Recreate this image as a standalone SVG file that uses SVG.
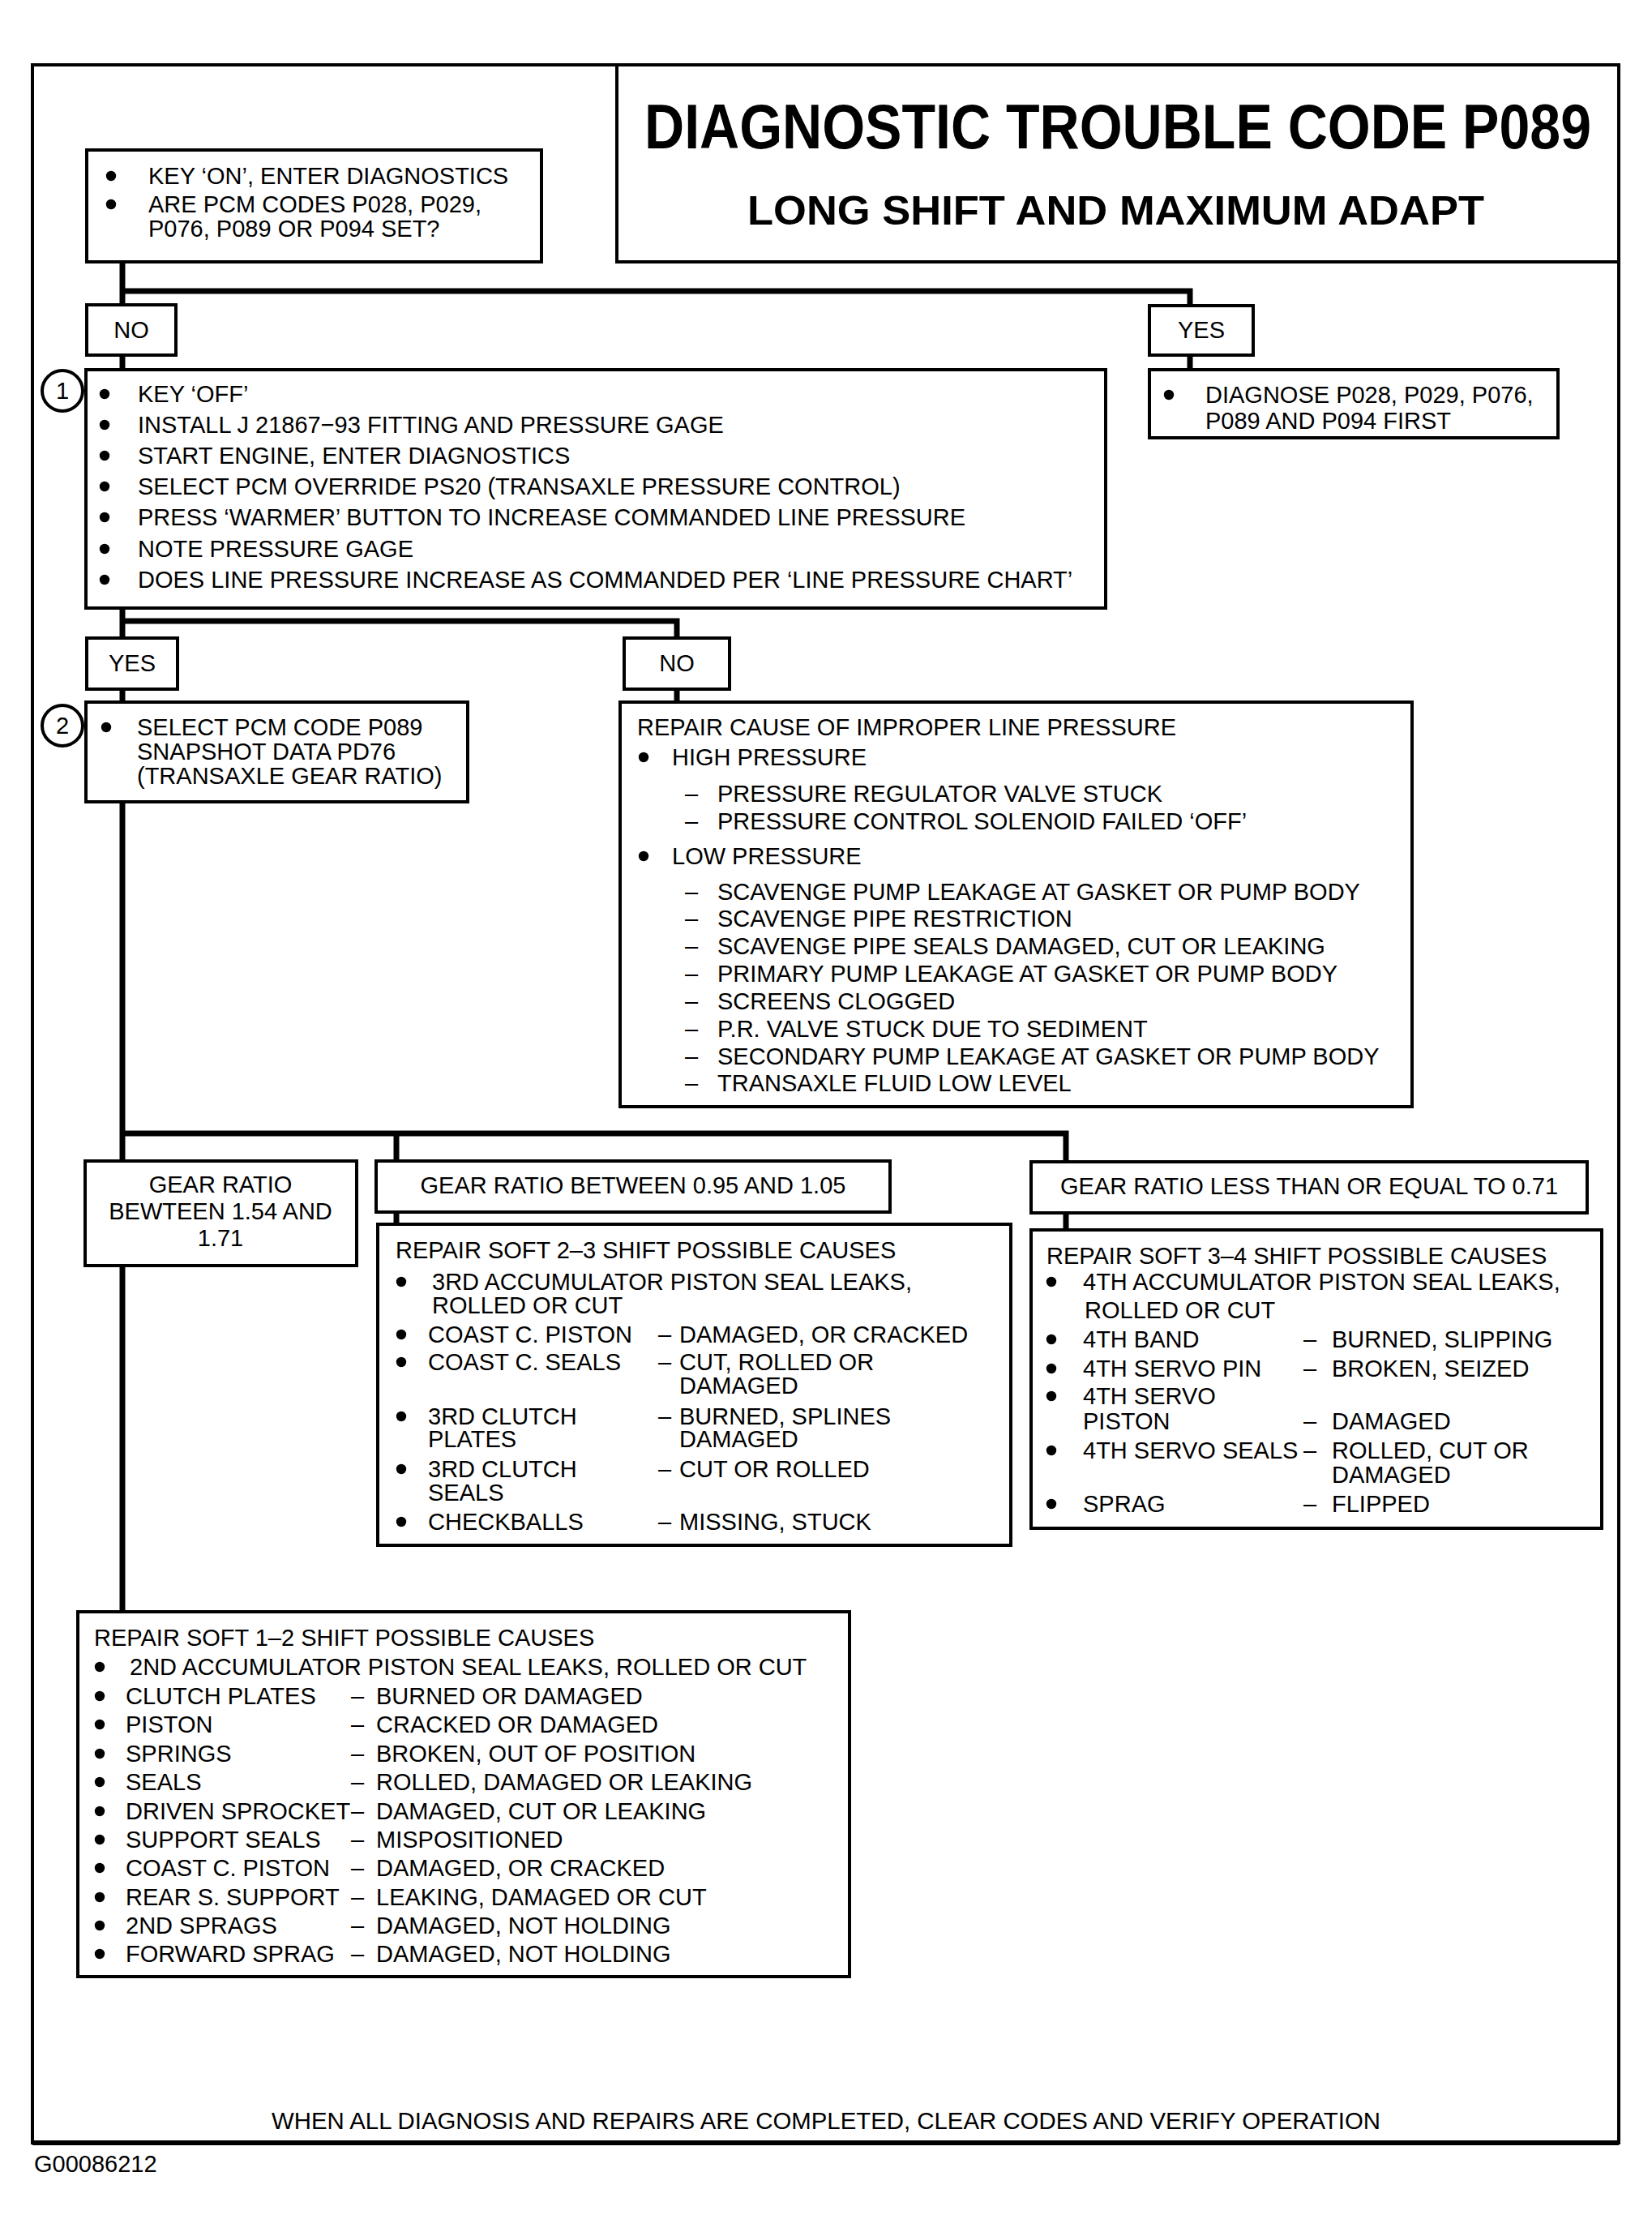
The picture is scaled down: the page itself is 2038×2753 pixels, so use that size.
<svg xmlns="http://www.w3.org/2000/svg" width="2038" height="2753" viewBox="0 0 2038 2753">
<style>
.bx{fill:#fff;stroke:#000;stroke-width:4}
.cn{fill:none;stroke:#000;stroke-width:7;stroke-linejoin:miter}
.t{font-family:"Liberation Sans",Arial,Helvetica,sans-serif;font-size:29px;fill:#000}
.c{text-anchor:middle}
.h{font-family:"Liberation Sans",Arial,Helvetica,sans-serif;font-weight:bold;fill:#000}
.b{fill:#000}
.ci{fill:#fff;stroke:#000;stroke-width:4}
</style>
<defs>
<circle id="bul" r="6.2" fill="#000"/>
</defs>
<rect width="2038" height="2753" fill="#fff"/>
<rect x="40" y="80" width="1957" height="2563" fill="none" stroke="#000" stroke-width="4"/>
<line x1="40" y1="2643" x2="1997" y2="2643" stroke="#000" stroke-width="6"/>

<g id="connectors">
<path class="cn" d="M151,323 V376 M151,359 H1468 V377 M1468,438 V456 M151,438 V456"/>
<path class="cn" d="M151,750 V787 M151,766 H835 V787 M151,850 V866 M835,850 V866"/>
<path class="cn" d="M151,989 V1432 M151,1398 H1315 V1433 M489,1398 V1432 M151,1561 V1988 M489,1495 V1510 M1315,1496 V1517"/>
</g>

<g id="title">
<rect x="761" y="80" width="1236" height="243" fill="#fff" stroke="#000" stroke-width="4"/>
<text class="h" transform="translate(795,183) scale(1,1.15)" x="0" y="0" font-size="68" textLength="1168" lengthAdjust="spacingAndGlyphs">DIAGNOSTIC TROUBLE CODE P089</text>
<text class="h" x="922" y="277" font-size="50" textLength="909" lengthAdjust="spacingAndGlyphs">LONG SHIFT AND MAXIMUM ADAPT</text>
</g>

<g id="start">
<rect class="bx" x="107" y="185" width="561" height="138"/>
<use href="#bul" x="137" y="217"/>
<text class="t" x="183" y="227">KEY ‘ON’, ENTER DIAGNOSTICS</text>
<use href="#bul" x="137" y="252"/>
<text class="t" x="183" y="262">ARE PCM CODES P028, P029,</text>
<text class="t" x="183" y="292">P076, P089 OR P094 SET?</text>
</g>

<g id="no1">
<rect class="bx" x="107" y="376" width="110" height="62"/>
<text class="t c" x="162" y="417">NO</text>
</g>

<g id="yes1">
<rect class="bx" x="1418" y="377" width="128" height="61"/>
<text class="t c" x="1482" y="417">YES</text>
</g>

<g id="diagnose">
<rect class="bx" x="1418" y="456" width="504" height="84"/>
<use href="#bul" x="1442" y="487"/>
<text class="t" x="1487" y="497">DIAGNOSE P028, P029, P076,</text>
<text class="t" x="1487" y="529">P089 AND P094 FIRST</text>
</g>

<g id="step1">
<rect class="bx" x="106" y="456" width="1258" height="294"/>
<circle class="ci" cx="77" cy="482" r="25"/>
<text class="t c" x="77" y="492">1</text>
<use href="#bul" x="129" y="486"/>
<text class="t" x="170" y="496">KEY ‘OFF’</text>
<use href="#bul" x="129" y="524"/>
<text class="t" x="170" y="534">INSTALL J  21867−93 FITTING AND PRESSURE GAGE</text>
<use href="#bul" x="129" y="562"/>
<text class="t" x="170" y="572">START ENGINE, ENTER DIAGNOSTICS</text>
<use href="#bul" x="129" y="600"/>
<text class="t" x="170" y="610">SELECT PCM OVERRIDE PS20 (TRANSAXLE PRESSURE CONTROL)</text>
<use href="#bul" x="129" y="638"/>
<text class="t" x="170" y="648">PRESS ‘WARMER’ BUTTON TO INCREASE COMMANDED LINE PRESSURE</text>
<use href="#bul" x="129" y="677"/>
<text class="t" x="170" y="687">NOTE PRESSURE GAGE</text>
<use href="#bul" x="129" y="715"/>
<text class="t" x="170" y="725">DOES LINE PRESSURE INCREASE AS COMMANDED PER ‘LINE PRESSURE CHART’</text>
</g>

<g id="yes2">
<rect class="bx" x="107" y="787" width="112" height="63"/>
<text class="t c" x="163" y="828">YES</text>
</g>

<g id="no2">
<rect class="bx" x="770" y="787" width="130" height="63"/>
<text class="t c" x="835" y="828">NO</text>
</g>

<g id="step2">
<rect class="bx" x="106" y="866" width="471" height="123"/>
<circle class="ci" cx="77" cy="895" r="25"/>
<text class="t c" x="77" y="905">2</text>
<use href="#bul" x="131" y="897"/>
<text class="t" x="169" y="907">SELECT PCM CODE P089</text>
<text class="t" x="169" y="937">SNAPSHOT DATA PD76</text>
<text class="t" x="169" y="967">(TRANSAXLE GEAR RATIO)</text>
</g>

<g id="repair-line-pressure">
<rect class="bx" x="765" y="866" width="977" height="499"/>
<text class="t" x="786" y="907">REPAIR CAUSE OF IMPROPER LINE PRESSURE</text>
<use href="#bul" x="794" y="934"/>
<text class="t" x="829" y="944">HIGH PRESSURE</text>
<text class="t" x="845" y="989">–</text>
<text class="t" x="885" y="989">PRESSURE REGULATOR VALVE STUCK</text>
<text class="t" x="845" y="1023">–</text>
<text class="t" x="885" y="1023">PRESSURE CONTROL SOLENOID FAILED ‘OFF’</text>
<use href="#bul" x="794" y="1056"/>
<text class="t" x="829" y="1066">LOW PRESSURE</text>
<text class="t" x="845" y="1110">–</text>
<text class="t" x="885" y="1110">SCAVENGE PUMP LEAKAGE AT GASKET OR  PUMP BODY</text>
<text class="t" x="845" y="1143">–</text>
<text class="t" x="885" y="1143">SCAVENGE PIPE RESTRICTION</text>
<text class="t" x="845" y="1177">–</text>
<text class="t" x="885" y="1177">SCAVENGE PIPE SEALS DAMAGED, CUT OR LEAKING</text>
<text class="t" x="845" y="1211">–</text>
<text class="t" x="885" y="1211">PRIMARY PUMP LEAKAGE AT GASKET OR PUMP BODY</text>
<text class="t" x="845" y="1245">–</text>
<text class="t" x="885" y="1245">SCREENS CLOGGED</text>
<text class="t" x="845" y="1279">–</text>
<text class="t" x="885" y="1279">P.R. VALVE STUCK DUE TO SEDIMENT</text>
<text class="t" x="845" y="1313">–</text>
<text class="t" x="885" y="1313">SECONDARY PUMP LEAKAGE AT GASKET OR PUMP BODY</text>
<text class="t" x="845" y="1346">–</text>
<text class="t" x="885" y="1346">TRANSAXLE FLUID LOW LEVEL</text>
</g>

<g id="gear1">
<rect class="bx" x="105" y="1432" width="335" height="129"/>
<text class="t c" x="272" y="1471">GEAR RATIO</text>
<text class="t c" x="272" y="1504">BEWTEEN 1.54 AND</text>
<text class="t c" x="272" y="1537">1.71</text>
</g>

<g id="gear2">
<rect class="bx" x="464" y="1432" width="634" height="63"/>
<text class="t c" x="781" y="1472">GEAR RATIO BETWEEN 0.95 AND 1.05</text>
</g>

<g id="gear3">
<rect class="bx" x="1272" y="1433" width="686" height="63"/>
<text class="t c" x="1615" y="1473">GEAR RATIO LESS THAN OR EQUAL TO 0.71</text>
</g>

<g id="soft23">
<rect class="bx" x="466" y="1510" width="781" height="396"/>
<text class="t" x="488" y="1552">REPAIR SOFT 2–3 SHIFT POSSIBLE CAUSES</text>
<use href="#bul" x="495" y="1581"/>
<text class="t" x="533" y="1591">3RD  ACCUMULATOR PISTON SEAL LEAKS,</text>
<text class="t" x="533" y="1620">ROLLED OR CUT</text>
<use href="#bul" x="495" y="1646"/>
<text class="t" x="528" y="1656">COAST C. PISTON</text>
<text class="t" x="812" y="1656">–</text>
<text class="t" x="838" y="1656">DAMAGED, OR CRACKED</text>
<use href="#bul" x="495" y="1680"/>
<text class="t" x="528" y="1690">COAST C. SEALS</text>
<text class="t" x="812" y="1690">–</text>
<text class="t" x="838" y="1690">CUT, ROLLED OR</text>
<text class="t" x="838" y="1719">DAMAGED</text>
<use href="#bul" x="495" y="1747"/>
<text class="t" x="528" y="1757">3RD CLUTCH</text>
<text class="t" x="812" y="1757">–</text>
<text class="t" x="838" y="1757">BURNED, SPLINES</text>
<text class="t" x="528" y="1785">PLATES</text>
<text class="t" x="838" y="1785">DAMAGED</text>
<use href="#bul" x="495" y="1812"/>
<text class="t" x="528" y="1822">3RD CLUTCH</text>
<text class="t" x="812" y="1822">–</text>
<text class="t" x="838" y="1822">CUT OR ROLLED</text>
<text class="t" x="528" y="1851">SEALS</text>
<use href="#bul" x="495" y="1877"/>
<text class="t" x="528" y="1887">CHECKBALLS</text>
<text class="t" x="812" y="1887">–</text>
<text class="t" x="838" y="1887">MISSING, STUCK</text>
</g>

<g id="soft34">
<rect class="bx" x="1272" y="1517" width="704" height="368"/>
<text class="t" x="1291" y="1559">REPAIR  SOFT 3–4 SHIFT POSSIBLE CAUSES</text>
<use href="#bul" x="1297" y="1581"/>
<text class="t" x="1336" y="1591">4TH  ACCUMULATOR PISTON SEAL LEAKS,</text>
<text class="t" x="1338" y="1626">ROLLED OR CUT</text>
<use href="#bul" x="1297" y="1652"/>
<text class="t" x="1336" y="1662">4TH BAND</text>
<text class="t" x="1608" y="1662">–</text>
<text class="t" x="1643" y="1662">BURNED, SLIPPING</text>
<use href="#bul" x="1297" y="1688"/>
<text class="t" x="1336" y="1698">4TH SERVO PIN</text>
<text class="t" x="1608" y="1698">–</text>
<text class="t" x="1643" y="1698">BROKEN, SEIZED</text>
<use href="#bul" x="1297" y="1722"/>
<text class="t" x="1336" y="1732">4TH SERVO</text>
<text class="t" x="1336" y="1763">PISTON</text>
<text class="t" x="1608" y="1763">–</text>
<text class="t" x="1643" y="1763">DAMAGED</text>
<use href="#bul" x="1297" y="1789"/>
<text class="t" x="1336" y="1799">4TH SERVO SEALS</text>
<text class="t" x="1608" y="1799">–</text>
<text class="t" x="1643" y="1799">ROLLED, CUT OR</text>
<text class="t" x="1643" y="1829">DAMAGED</text>
<use href="#bul" x="1297" y="1855"/>
<text class="t" x="1336" y="1865">SPRAG</text>
<text class="t" x="1608" y="1865">–</text>
<text class="t" x="1643" y="1865">FLIPPED</text>
</g>

<g id="soft12">
<rect class="bx" x="96" y="1988" width="952" height="450"/>
<text class="t" x="116" y="2030">REPAIR  SOFT 1–2 SHIFT POSSIBLE CAUSES</text>
<use href="#bul" x="123" y="2056"/>
<text class="t" x="160" y="2066">2ND  ACCUMULATOR PISTON SEAL LEAKS, ROLLED OR CUT</text>
<use href="#bul" x="123" y="2092"/>
<text class="t" x="155" y="2102">CLUTCH PLATES</text>
<text class="t" x="433" y="2102">–</text>
<text class="t" x="464" y="2102">BURNED OR DAMAGED</text>
<use href="#bul" x="123" y="2127"/>
<text class="t" x="155" y="2137">PISTON</text>
<text class="t" x="433" y="2137">–</text>
<text class="t" x="464" y="2137">CRACKED OR DAMAGED</text>
<use href="#bul" x="123" y="2163"/>
<text class="t" x="155" y="2173">SPRINGS</text>
<text class="t" x="433" y="2173">–</text>
<text class="t" x="464" y="2173">BROKEN, OUT OF POSITION</text>
<use href="#bul" x="123" y="2198"/>
<text class="t" x="155" y="2208">SEALS</text>
<text class="t" x="433" y="2208">–</text>
<text class="t" x="464" y="2208">ROLLED, DAMAGED OR LEAKING</text>
<use href="#bul" x="123" y="2234"/>
<text class="t" x="155" y="2244">DRIVEN SPROCKET</text>
<text class="t" x="433" y="2244">–</text>
<text class="t" x="464" y="2244">DAMAGED, CUT OR LEAKING</text>
<use href="#bul" x="123" y="2269"/>
<text class="t" x="155" y="2279">SUPPORT SEALS</text>
<text class="t" x="433" y="2279">–</text>
<text class="t" x="464" y="2279">MISPOSITIONED</text>
<use href="#bul" x="123" y="2304"/>
<text class="t" x="155" y="2314">COAST C. PISTON</text>
<text class="t" x="433" y="2314">–</text>
<text class="t" x="464" y="2314">DAMAGED, OR CRACKED</text>
<use href="#bul" x="123" y="2340"/>
<text class="t" x="155" y="2350">REAR  S. SUPPORT</text>
<text class="t" x="433" y="2350">–</text>
<text class="t" x="464" y="2350">LEAKING, DAMAGED OR CUT</text>
<use href="#bul" x="123" y="2375"/>
<text class="t" x="155" y="2385">2ND SPRAGS</text>
<text class="t" x="433" y="2385">–</text>
<text class="t" x="464" y="2385">DAMAGED, NOT HOLDING</text>
<use href="#bul" x="123" y="2410"/>
<text class="t" x="155" y="2420">FORWARD SPRAG</text>
<text class="t" x="433" y="2420">–</text>
<text class="t" x="464" y="2420">DAMAGED, NOT HOLDING</text>
</g>

<g id="footer">
<text class="t" x="335" y="2626" textLength="1368" lengthAdjust="spacingAndGlyphs">WHEN ALL DIAGNOSIS AND REPAIRS ARE COMPLETED, CLEAR CODES AND VERIFY OPERATION</text>
<text class="t" x="42" y="2679" font-size="24">G00086212</text>
</g>
</svg>
